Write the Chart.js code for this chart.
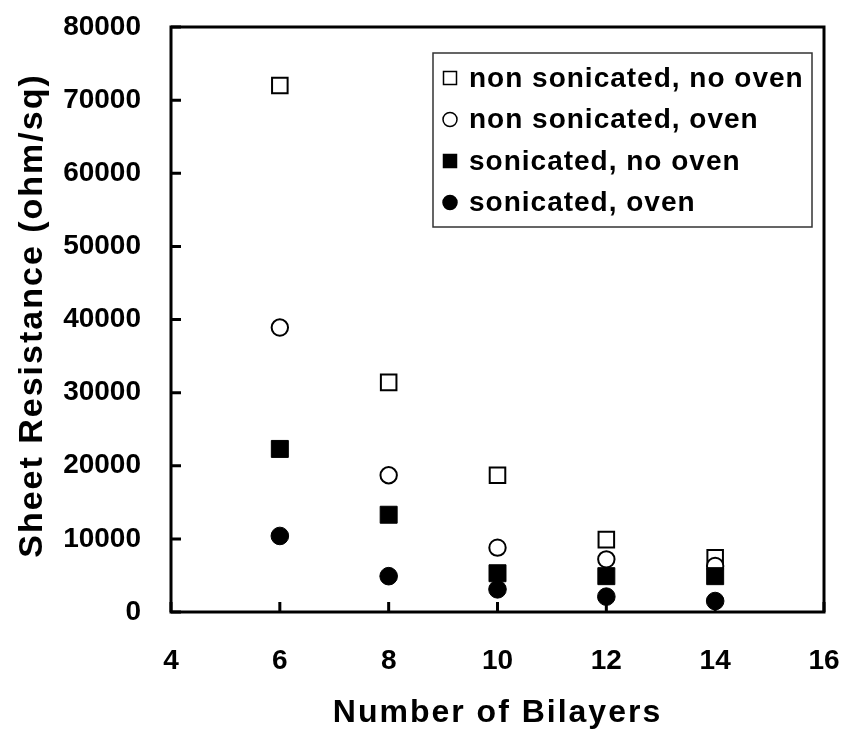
<!DOCTYPE html>
<html>
<head>
<meta charset="utf-8">
<script src="https://cdn.jsdelivr.net/npm/chart.js@4.4.0/dist/chart.umd.min.js"></script>
<style>
  html, body { margin: 0; padding: 0; background: #fff; }
  #wrap { width: 844px; height: 734px; }
</style>
</head>
<body>
<div id="wrap"><canvas id="myChart" width="844" height="734"></canvas></div>
<script>
// data
var bilayers = [6, 8, 10, 12, 14];
var nonSonNoOven = [72000, 31400, 18700, 9900, 7400];
var nonSonOven = [38900, 18700, 8800, 7200, 6300];
var sonNoOven = [22300, 13300, 5300, 4900, 4900];
var sonOven = [10400, 4900, 3100, 2100, 1500];
var seriesNames = ['non sonicated, no oven', 'non sonicated, oven', 'sonicated, no oven', 'sonicated, oven'];
var xTicks = [4, 6, 8, 10, 12, 14, 16];
var yTicks = [0, 10000, 20000, 30000, 40000, 50000, 60000, 70000, 80000];
var xTitle = 'Number of Bilayers';
var yTitle = 'Sheet Resistance (ohm/sq)';

var FONT = "'Liberation Sans', Arial, sans-serif";

function toPoints(ys) {
  return bilayers.map(function(x, i) { return {x: x, y: ys[i]}; });
}

function makeSet(idx, ys, style, filled, order) {
  return {
    label: seriesNames[idx],
    data: toPoints(ys),
    showLine: false,
    pointStyle: style,
    pointRadius: style === 'rect' ? (filled ? 12 : 11) : (filled ? 8.8 : 8.2),
    pointBackgroundColor: filled ? '#000' : '#fff',
    pointBorderColor: '#000',
    pointBorderWidth: filled ? 1 : 2,
    order: order,
    _filled: filled
  };
}

/* frame round the plot and the inward tick marks */
var framePlugin = {
  id: 'frame',
  beforeDatasetsDraw: function(chart) {
    var ctx = chart.ctx, a = chart.chartArea;
    var xs = chart.scales.x, ys = chart.scales.y;
    ctx.save();
    ctx.strokeStyle = '#000';
    ctx.lineWidth = 3;
    ctx.beginPath();
    xTicks.forEach(function(v) {
      var px = xs.getPixelForValue(v);
      ctx.moveTo(px, a.bottom);
      ctx.lineTo(px, a.bottom - 10);
    });
    yTicks.forEach(function(v) {
      var py = ys.getPixelForValue(v);
      ctx.moveTo(a.left, py);
      ctx.lineTo(a.left + 10, py);
    });
    ctx.stroke();
    ctx.strokeRect(a.left, a.top, a.right - a.left, a.bottom - a.top);
    ctx.restore();
  }
};

/* legend box and axis titles */
var legendPlugin = {
  id: 'boxLegend',
  afterDraw: function(chart) {
    var ctx = chart.ctx;
    var a = chart.chartArea;
    ctx.save();

    // legend
    ctx.fillStyle = '#fff';
    ctx.fillRect(433, 53, 379, 174);
    ctx.strokeStyle = '#333';
    ctx.lineWidth = 1.5;
    ctx.strokeRect(433, 53, 379, 174);

    ctx.font = 'bold 28px ' + FONT;
    ctx.letterSpacing = '1px';
    ctx.textBaseline = 'middle';
    ctx.textAlign = 'left';
    chart.data.datasets.forEach(function(ds, i) {
      var cy = 78 + i * 41.5;
      var cx = 450;
      ctx.beginPath();
      if (ds.pointStyle === 'rect') {
        ctx.rect(cx - 6.5, cy - 6.5, 13, 13);
      } else {
        ctx.arc(cx, cy, 7, 0, Math.PI * 2);
      }
      ctx.fillStyle = ds._filled ? '#000' : '#fff';
      ctx.fill();
      ctx.strokeStyle = '#000';
      ctx.lineWidth = 1.5;
      ctx.stroke();
      ctx.fillStyle = '#000';
      ctx.fillText(ds.label, 469, cy + 1);
    });

    // axis titles
    ctx.fillStyle = '#000';
    ctx.textAlign = 'center';
    ctx.font = 'bold 32px ' + FONT;
    ctx.letterSpacing = '2px';
    ctx.fillText(xTitle, (a.left + a.right) / 2, 713);

    ctx.font = 'bold 34px ' + FONT;
    ctx.translate(33, (a.top + a.bottom) / 2 - 4);
    ctx.rotate(-Math.PI / 2);
    ctx.fillText(yTitle, 0, 0);
    ctx.restore();
  }
};

var config = {
  type: 'scatter',
  data: {
    datasets: [
      makeSet(0, nonSonNoOven, 'rect', false, 4),
      makeSet(1, nonSonOven, 'circle', false, 3),
      makeSet(2, sonNoOven, 'rect', true, 2),
      makeSet(3, sonOven, 'circle', true, 1)
    ]
  },
  options: {
    responsive: false,
    animation: false,
    devicePixelRatio: 1,
    layout: { padding: { top: 27, right: 20, left: 0, bottom: 0 } },
    plugins: {
      legend: { display: false },
      tooltip: { enabled: false }
    },
    scales: {
      x: {
        type: 'linear',
        min: 4,
        max: 16,
        grid: { display: false, drawTicks: false },
        border: { display: false },
        ticks: {
          padding: 32,
          color: '#000',
          font: { family: FONT, size: 28, weight: 'bold' }
        },
        afterBuildTicks: function(scale) {
          scale.ticks = xTicks.map(function(v) { return {value: v}; });
        },
        afterFit: function(scale) {
          scale.height = 122;
          scale.paddingLeft = 0;
          scale.paddingRight = 0;
        }
      },
      y: {
        type: 'linear',
        min: 0,
        max: 80000,
        grid: { display: false, drawTicks: false },
        border: { display: false },
        ticks: {
          padding: 30,
          color: '#000',
          font: { family: FONT, size: 28, weight: 'bold' },
          callback: function(v) { return String(v); }
        },
        afterBuildTicks: function(scale) {
          scale.ticks = yTicks.map(function(v) { return {value: v}; });
        },
        afterFit: function(scale) {
          scale.width = 171;
          scale.paddingTop = 0;
          scale.paddingBottom = 0;
        }
      }
    }
  },
  plugins: [framePlugin, legendPlugin]
};

window.onload = function() {
  var ctx = document.getElementById('myChart').getContext('2d');
  window.sheetChart = new Chart(ctx, config);
};
</script>
</body>
</html>
